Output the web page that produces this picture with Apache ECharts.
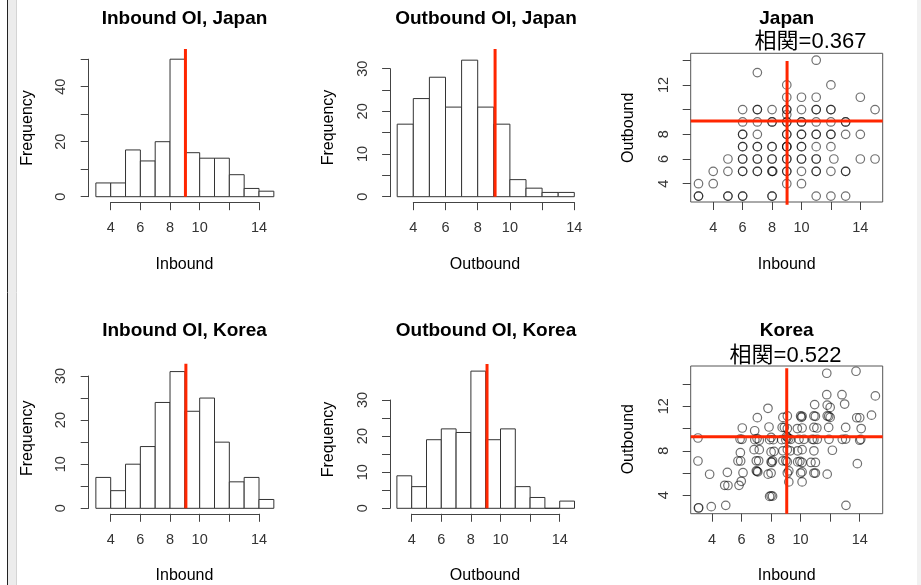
<!DOCTYPE html>
<html>
<head>
<meta charset="utf-8">
<title>Inbound / Outbound OI</title>
<script src="https://cdn.jsdelivr.net/npm/echarts@6/dist/echarts.min.js"></script>
<style>
html, body { margin: 0; padding: 0; background: #fff; }
#chart { width: 921px; height: 585px; }
</style>
</head>
<body>
<div id="chart"></div>
<script>
// histogram bins: left edges, each bin is 1 wide
const binStarts = [3, 4, 5, 6, 7, 8, 9, 10, 11, 12, 13, 14];
const jpInFreq = [5, 5, 17, 13, 20, 50, 16, 14, 14, 8, 3, 2];
const jpOutFreq = [17, 23, 28, 21, 32, 21, 17, 4, 2, 1, 1];
const krInFreq = [7, 4, 10, 14, 24, 31, 22, 25, 15, 6, 7, 2];
const krOutFreq = [9, 6, 19, 22, 21, 38, 19, 22, 6, 3, 0, 2];

// red mean lines: [x, top of line]
const jpInMean = [9.04, 53.7];
const jpOutMean = [9.08, 34.6];
const krInMean = [9.07, 32.8];
const krOutMean = [9.09, 40];

// scatter cross lines: vertical x, horizontal y
const jpCross = [9.02, 9.08];
const krCross = [9.06, 9.26];

// tick values / labels
const xTicks = [4, 6, 8, 10, 12, 14];
const xLabels = [4, 6, 8, 10, 14];
const jpInYTicks = [0, 10, 20, 30, 40, 50];
const jpInYLabels = [0, 20, 40];
const freqTicks30 = [0, 5, 10, 15, 20, 25, 30];
const freqLabels30 = [0, 10, 20, 30];
const scatYTicks = [4, 6, 8, 10, 12, 14];
const jpScatYLabels = [4, 6, 8, 12];
const krScatYLabels = [4, 8, 12];

// Japan: inbound vs outbound
const jpPoints = [
  [11, 14], [7, 13], [9, 12], [12, 12],
  [9, 11], [10, 11], [11, 11], [14, 11],
  [6, 10], [7, 10], [7, 10], [8, 10], [9, 10], [9, 10], [10, 10], [11, 10], [11, 10], [12, 10], [12, 10], [15, 10],
  [9, 9.6],
  [6, 9], [7, 9], [8, 9], [8, 9], [9, 9], [9, 9], [10, 9], [10, 9], [11, 9], [12, 9], [13, 9], [13, 9],
  [6, 8], [6, 8], [7, 8], [9, 8], [9, 8], [10, 8], [10, 8], [11, 8], [11, 8], [12, 8], [12, 8], [13, 8], [14, 8],
  [6, 7], [6, 7], [7, 7], [7, 7], [8, 7], [8, 7], [9, 7], [9, 7], [9, 7], [10, 7], [10, 7], [11, 7], [12, 7],
  [5, 6], [6, 6], [6, 6], [7, 6], [7, 6], [8, 6], [8, 6], [9, 6], [9, 6], [10, 6], [10, 6], [11, 6], [11, 6], [12.2, 6], [14, 6], [15, 6],
  [4, 5], [5, 5], [6, 5], [6, 5], [7, 5], [7, 5], [8, 5], [8.05, 5], [8, 5], [9, 5], [9, 5], [10, 5], [11, 5], [11, 5], [12, 5], [13, 5], [13, 5],
  [3, 4], [4, 4], [9, 4], [10, 4],
  [3, 3], [3, 3], [5, 3], [5, 3], [6, 3], [6, 3], [8, 3], [8, 3], [11, 3], [12, 3], [13, 3]
];

// Korea: inbound vs outbound
const krPoints = [
  [3.05, 9.15], [3.05, 7.08], [3.08, 2.86], [3.1, 2.88],
  [3.84, 5.89], [3.95, 2.98],
  [4.93, 3.1], [4.86, 4.9], [5.08, 4.88], [5.04, 6.06],
  [5.83, 4.9], [5.98, 5.26], [6.1, 6.03], [5.76, 7.08], [5.94, 7.08], [5.92, 7.83], [6.03, 9.03], [5.9, 9.05], [6.05, 10.05],
  [6.89, 9.8], [7.07, 10.98], [6.9, 9.0], [7.05, 9.1], [7.2, 8.95], [6.85, 8.1], [7.2, 8.1], [7.16, 7.1], [7.0, 7.1],
  [7.0, 6.2], [7.05, 6.15], [7.1, 6.1],
  [7.79, 11.82], [7.86, 10.14], [7.9, 9.0], [8.0, 9.2], [8.15, 9.0], [8.0, 7.9], [8.2, 7.95], [8.0, 7.0], [8.1, 7.1],
  [8.05, 6.95], [7.8, 5.9], [8.0, 6.0], [7.9, 3.9], [8.1, 3.92], [8.0, 3.95],
  [8.8, 11.0], [8.75, 10.1], [8.9, 10.1], [8.72, 9.0], [8.8, 8.0], [8.8, 7.1],
  [9.1, 11.13], [9.1, 10.0], [9.0, 9.0], [9.1, 9.2], [9.2, 9.1], [9.05, 9.3], [9.1, 8.1], [9.3, 8.0], [9.1, 7.0],
  [9.0, 7.1], [9.1, 6.0], [9.2, 6.2], [9.2, 5.2], [9.33, 9.03],
  [10.0, 11.13], [10.1, 11.1], [10.05, 11.0], [9.78, 10.0], [10.1, 10.05], [9.89, 9.03], [10.23, 9.03], [9.8, 8.0],
  [10.1, 8.1], [9.8, 7.0], [9.95, 7.05], [10.1, 6.95], [10.0, 6.0], [10.1, 6.1], [10.1, 5.2],
  [10.95, 12.15], [10.9, 11.13], [11.0, 11.1], [10.9, 10.1], [11.1, 10.05], [10.79, 9.03], [10.9, 9.0], [11.13, 9.03],
  [10.9, 8.0], [10.7, 6.95], [11.0, 6.95], [10.9, 6.0], [11.0, 6.0],
  [11.77, 14.97], [11.77, 13.04], [11.8, 12.1], [12.0, 11.9], [11.8, 11.13], [11.9, 11.1], [12.0, 11.0], [11.9, 10.1],
  [11.92, 9.03], [12.15, 8.05], [11.8, 5.9],
  [12.8, 13.04], [12.98, 12.2], [13.05, 10.1], [12.82, 9.03], [13.05, 9.05], [13.07, 3.1],
  [13.75, 15.15], [13.8, 10.97], [14.0, 10.97], [14.1, 10.0], [14.07, 9.03], [14.0, 8.95], [13.84, 6.84],
  [14.8, 11.2], [15.06, 12.93]
];

const FONT = "'Liberation Sans', Arial, 'Noto Sans CJK JP', sans-serif";
const axisColor = '#444';
const red = '#ff2600';

const toBins = freq => freq.map((f, i) => [binStarts[i], binStarts[i] + 1, f]);

function histItem(params, api) {
  const topLeft = api.coord([api.value(0), api.value(2)]);
  const bottomRight = api.coord([api.value(1), 0]);
  return {
    type: 'rect',
    shape: {
      x: topLeft[0],
      y: topLeft[1],
      width: bottomRight[0] - topLeft[0],
      height: bottomRight[1] - topLeft[1]
    },
    style: { fill: '#fff', stroke: '#333', lineWidth: 1 }
  };
}

function xAxisOf(gi, min, max, offset, showLine) {
  return {
    gridIndex: gi, type: 'value', min: min, max: max, offset: offset,
    axisLine: { show: showLine, onZero: false, lineStyle: { color: axisColor, width: 1 } },
    axisTick: { show: true, length: 8, customValues: xTicks, lineStyle: { color: axisColor } },
    axisLabel: { customValues: xLabels, margin: 19, fontSize: 14.5, color: '#333', fontFamily: FONT },
    splitLine: { show: false }
  };
}

function yAxisOf(gi, min, max, offset, showLine, ticks, labels, margin) {
  return {
    gridIndex: gi, type: 'value', min: min, max: max, offset: offset,
    axisLine: { show: showLine, onZero: false, lineStyle: { color: axisColor, width: 1 } },
    axisTick: { show: true, length: 8, customValues: ticks, lineStyle: { color: axisColor } },
    axisLabel: { customValues: labels, rotate: 90, margin: margin, fontSize: 14.5, color: '#333', fontFamily: FONT },
    splitLine: { show: false }
  };
}

function histSeries(gi, freq) {
  return {
    type: 'custom', xAxisIndex: gi, yAxisIndex: gi,
    renderItem: histItem, data: toBins(freq),
    encode: { x: [0, 1], y: 2 }, clip: false, silent: true, z: 2
  };
}

function redLine(gi, pts) {
  return {
    type: 'line', xAxisIndex: gi, yAxisIndex: gi, data: pts,
    symbol: 'none', clip: false, silent: true, z: 5,
    lineStyle: { color: red, width: 3 }
  };
}

function scatterSeries(gi, pts) {
  return {
    type: 'scatter', xAxisIndex: gi, yAxisIndex: gi, data: pts,
    symbol: 'circle', symbolSize: 8.5, silent: true, z: 3,
    itemStyle: { color: 'rgba(0,0,0,0)', borderColor: 'rgba(0,0,0,0.7)', borderWidth: 1.2 }
  };
}

const boxGrid = { show: true, borderColor: '#555', borderWidth: 1, backgroundColor: 'transparent' };

function label(text, x, y, size, bold, rot) {
  return {
    type: 'text', x: x, y: y, rotation: rot || 0, silent: true, z: 10,
    style: {
      text: text, x: 0, y: 0, align: 'center', verticalAlign: 'middle',
      font: (bold ? 'bold ' : '') + size + 'px ' + FONT, fill: '#000'
    }
  };
}

const R90 = Math.PI / 2;

const option = {
  animation: false,
  backgroundColor: '#fff',
  grid: [
    { left: 110.7, top: 59.2, width: 148.3, height: 137.5, outerBoundsMode: 'none' },
    { left: 413.3, top: 68.7, width: 161, height: 128, outerBoundsMode: 'none' },
    Object.assign({ left: 690.7, top: 53.3, width: 192, height: 148.7, outerBoundsMode: 'none' }, boxGrid),
    { left: 110.7, top: 376, width: 148.3, height: 132.3, outerBoundsMode: 'none' },
    { left: 411.7, top: 400, width: 148, height: 108.3, outerBoundsMode: 'none' },
    Object.assign({ left: 690.7, top: 366, width: 192, height: 147.7, outerBoundsMode: 'none' }, boxGrid)
  ],
  xAxis: [
    xAxisOf(0, 4, 14, 5.5, true),
    xAxisOf(1, 4, 14, 5.5, true),
    xAxisOf(2, 2.47, 15.52, 0, false),
    xAxisOf(3, 4, 14, 5.5, true),
    xAxisOf(4, 4, 14, 5.5, true),
    xAxisOf(5, 2.558, 15.557, 0, false)
  ],
  yAxis: [
    yAxisOf(0, 0, 50, 22, true, jpInYTicks, jpInYLabels, 20),
    yAxisOf(1, 0, 30, 23.2, true, freqTicks30, freqLabels30, 20),
    yAxisOf(2, 2.52, 14.56, 0, false, scatYTicks, jpScatYLabels, 19),
    yAxisOf(3, 0, 30, 22, true, freqTicks30, freqLabels30, 20),
    yAxisOf(4, 0, 30, 21.7, true, freqTicks30, freqLabels30, 20),
    yAxisOf(5, 2.346, 15.62, 0, false, scatYTicks, krScatYLabels, 19)
  ],
  series: [
    histSeries(0, jpInFreq),
    redLine(0, [[jpInMean[0], 0], [jpInMean[0], jpInMean[1]]]),
    histSeries(1, jpOutFreq),
    redLine(1, [[jpOutMean[0], 0], [jpOutMean[0], jpOutMean[1]]]),
    scatterSeries(2, jpPoints),
    redLine(2, [[jpCross[0], 2.3], [jpCross[0], 13.94]]),
    redLine(2, [[2.47, jpCross[1]], [15.52, jpCross[1]]]),
    histSeries(3, krInFreq),
    redLine(3, [[krInMean[0], 0], [krInMean[0], krInMean[1]]]),
    histSeries(4, krOutFreq),
    redLine(4, [[krOutMean[0], 0], [krOutMean[0], krOutMean[1]]]),
    scatterSeries(5, krPoints),
    redLine(5, [[krCross[0], 2.346], [krCross[0], 15.42]]),
    redLine(5, [[2.558, krCross[1]], [15.557, krCross[1]]])
  ],
  graphic: [
    // window edges
    { type: 'rect', shape: { x: 8, y: 0, width: 8, height: 585 }, style: { fill: '#ececec' }, silent: true },
    { type: 'line', shape: { x1: 7.5, y1: 0, x2: 7.5, y2: 585 }, style: { stroke: '#222', lineWidth: 1 }, silent: true },
    { type: 'line', shape: { x1: 16.5, y1: 0, x2: 16.5, y2: 585 }, style: { stroke: '#d4d4d4', lineWidth: 1 }, silent: true },
    { type: 'rect', shape: { x: 917, y: 0, width: 4, height: 585 }, style: { fill: '#f1f1f1' }, silent: true },

    // titles
    label('Inbound OI, Japan', 184.5, 18.5, 19, true),
    label('Outbound OI, Japan', 486, 18.5, 19, true),
    label('Japan', 786.7, 19, 19, true),
    label('相関=0.367', 810.5, 41.5, 22, false),
    label('Inbound OI, Korea', 184.5, 330.7, 19, true),
    label('Outbound OI, Korea', 486, 330.7, 19, true),
    label('Korea', 786.7, 330.7, 19, true),
    label('相関=0.522', 785.5, 356, 22, false),

    // axis titles
    label('Inbound', 184.5, 264.3, 16, false),
    label('Outbound', 485, 264.3, 16, false),
    label('Inbound', 786.7, 264.3, 16, false),
    label('Inbound', 184.5, 576, 16, false),
    label('Outbound', 485, 576, 16, false),
    label('Inbound', 786.7, 576, 16, false),
    label('Frequency', 27.5, 128, 16, false, R90),
    label('Frequency', 328.3, 127.5, 16, false, R90),
    label('Outbound', 629, 127.8, 16, false, R90),
    label('Frequency', 27.5, 438.3, 16, false, R90),
    label('Frequency', 328.3, 439.5, 16, false, R90),
    label('Outbound', 629, 439.2, 16, false, R90)
  ]
};

const chart = echarts.init(document.getElementById('chart'), null, { renderer: 'canvas' });
chart.setOption(option);
window.addEventListener('resize', () => chart.resize());
</script>
</body>
</html>
